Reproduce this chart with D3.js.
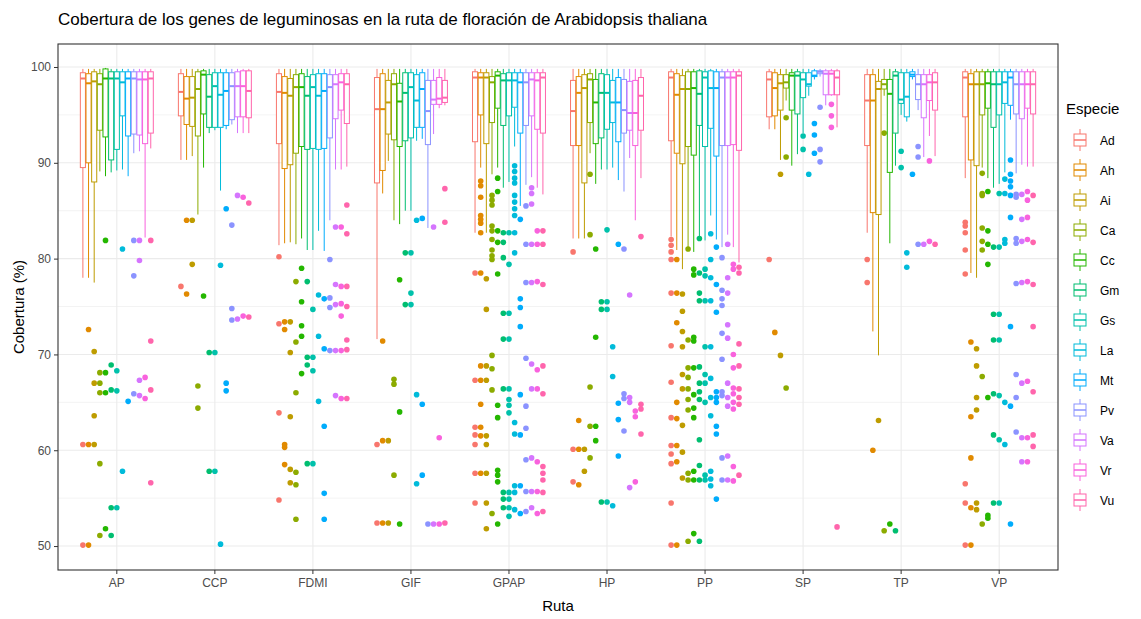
<!DOCTYPE html>
<html>
<head>
<meta charset="utf-8">
<script src="https://cdn.jsdelivr.net/npm/d3@7"></script>
<style>
  body { margin: 0; background: #fff; }
  text { font-family: "Liberation Sans", Arial, sans-serif; }
</style>
</head>
<body>
<div id="chart"></div>
<script>
var rutas = ["AP", "CCP", "FDMI", "GIF", "GPAP", "HP", "PP", "SP", "TP", "VP"];
var especies = ["Ad", "Ah", "Ai", "Ca", "Cc", "Gm", "Gs", "La", "Mt", "Pv", "Va", "Vr", "Vu"];
var colores = ["#F8766D", "#E18A00", "#BE9C00", "#8CAB00", "#24B700", "#00BE70", "#00C1AB",
               "#00BBDA", "#00ACFC", "#8B93FF", "#D575FE", "#F962DD", "#FF65AC"];
var yTicks = [50, 60, 70, 80, 90, 100];

// cajas: [bigote inferior, q1, mediana, q3, bigote superior] por especie (orden de "especies")
var cajasAP = [[78.0, 89.5, 98.8, 99.4, 99.8], [78.0, 90.0, 98.3, 99.3, 99.8], [77.5, 88.0, 98.5, 99.5, 99.8],
  [89.1, 93.4, 98.2, 99.3, 99.8], [88.6, 92.7, 98.8, 99.8, 99.9], [89.0, 90.3, 98.8, 99.5, 99.8],
  [89.2, 91.4, 98.8, 99.5, 99.8], [89.3, 94.9, 98.4, 99.5, 99.8], [88.6, 92.8, 98.8, 99.5, 99.8],
  [91.0, 93.0, 98.8, 99.5, 99.8], [91.2, 92.9, 98.7, 99.5, 99.8], [82.2, 92.0, 98.7, 99.5, 99.8],
  [91.5, 93.1, 98.8, 99.5, 99.8]];
var cajasCCP = [[90.3, 94.9, 97.4, 99.3, 99.8], [90.3, 94.0, 96.7, 99.0, 99.8], [90.7, 93.8, 96.8, 99.0, 99.8],
  [84.6, 92.8, 97.7, 99.5, 99.8], [89.5, 95.1, 99.2, 99.6, 99.8], [93.1, 93.7, 96.9, 99.2, 99.8],
  [93.4, 93.7, 98.0, 99.4, 99.8], [87.1, 93.7, 97.1, 99.4, 99.8], [93.5, 93.9, 97.5, 99.4, 99.8],
  [94.0, 94.5, 98.0, 99.4, 99.8], [93.1, 94.8, 98.0, 99.5, 99.8], [93.1, 94.8, 98.0, 99.6, 99.8],
  [93.1, 94.7, 97.5, 99.6, 99.8]];
var cajasFDMI = [[81.4, 92.0, 97.4, 99.3, 99.8], [81.6, 89.4, 97.3, 99.0, 99.8], [81.7, 89.8, 97.0, 98.8, 99.8],
  [81.5, 91.0, 97.9, 99.2, 99.8], [82.1, 91.7, 97.9, 99.3, 99.8], [80.9, 91.4, 97.0, 99.0, 99.8],
  [80.9, 91.5, 97.9, 99.2, 99.8], [82.9, 91.4, 97.0, 99.3, 99.8], [80.8, 91.5, 97.5, 99.3, 99.8],
  [84.0, 92.6, 97.9, 99.2, 99.8], [89.3, 94.6, 98.2, 99.2, 99.8], [89.3, 95.5, 98.4, 99.3, 99.8],
  [89.6, 94.1, 98.2, 99.3, 99.8]];
var cajasGIF = [[71.6, 87.9, 95.6, 98.9, 99.8], [86.8, 89.2, 95.6, 99.3, 99.8], [90.2, 93.0, 96.3, 98.6, 99.8],
  [84.0, 92.4, 98.2, 99.3, 99.8], [83.6, 91.7, 96.4, 98.3, 99.8], [85.0, 92.3, 97.3, 99.4, 99.8],
  [85.0, 92.6, 97.9, 99.4, 99.8], [92.3, 93.7, 96.5, 99.2, 99.8], [92.5, 93.7, 97.7, 99.4, 99.8],
  [83.2, 91.9, 95.4, 98.6, 99.8], [93.0, 96.1, 96.6, 98.6, 99.8], [95.7, 96.1, 96.7, 98.9, 99.8],
  [96.0, 96.3, 96.8, 98.6, 99.8]];
var cajasGPAP = [[82.7, 92.2, 98.9, 99.5, 99.8], [89.5, 95.0, 98.9, 99.4, 99.8], [82.7, 92.0, 98.9, 99.4, 99.8],
  [88.8, 94.2, 98.4, 99.0, 99.8], [89.5, 95.7, 99.1, 99.5, 99.8], [87.4, 93.9, 98.6, 99.3, 99.8],
  [88.0, 94.9, 98.6, 99.4, 99.8], [91.7, 95.8, 98.6, 99.4, 99.8], [85.5, 93.1, 98.4, 99.4, 99.8],
  [87.7, 93.9, 98.4, 99.4, 99.8], [88.5, 94.9, 98.7, 99.4, 99.8], [87.4, 93.5, 98.6, 99.4, 99.8],
  [86.7, 93.1, 98.9, 99.4, 99.8]];
var cajasHP = [[82.1, 91.8, 95.4, 98.6, 99.8], [82.1, 91.8, 97.3, 99.0, 99.8], [82.1, 87.9, 97.8, 99.2, 99.8],
  [91.0, 94.2, 98.7, 99.3, 99.8], [87.8, 92.0, 96.3, 98.7, 99.8], [89.3, 92.6, 97.3, 99.3, 99.8],
  [89.3, 93.5, 97.3, 99.2, 99.8], [89.5, 94.2, 96.3, 98.6, 99.8], [88.2, 92.2, 96.3, 98.9, 99.8],
  [87.0, 93.1, 95.5, 98.7, 99.8], [90.5, 93.4, 95.2, 98.5, 99.8], [84.0, 91.8, 95.2, 98.6, 99.8],
  [88.4, 93.4, 97.0, 98.9, 99.8]];
var cajasPP = [[82.3, 92.3, 98.9, 99.5, 99.8], [80.9, 91.0, 97.1, 99.3, 99.8], [78.9, 89.9, 97.7, 99.1, 99.8],
  [81.2, 91.7, 97.7, 99.5, 99.8], [80.7, 90.8, 97.8, 99.5, 99.8], [82.3, 93.9, 97.2, 99.6, 99.8],
  [81.9, 91.7, 98.9, 99.5, 99.8], [84.5, 93.6, 97.8, 99.6, 99.8], [82.0, 90.7, 97.8, 99.5, 99.8],
  [81.2, 91.8, 98.9, 99.5, 99.8], [82.5, 91.8, 98.9, 99.5, 99.8], [81.2, 91.9, 98.9, 99.5, 99.8],
  [79.6, 91.3, 99.1, 99.5, 99.8]];
var cajasSP = [[93.5, 94.8, 98.7, 99.5, 99.8], [93.5, 94.9, 97.8, 99.4, 99.8], [90.3, 95.5, 98.3, 99.2, 99.8],
  [96.5, 97.8, 98.4, 99.2, 99.8], [89.7, 95.5, 99.1, 99.4, 99.8], [90.9, 95.1, 99.1, 99.5, 99.8],
  [93.1, 96.8, 98.7, 99.4, 99.8], [97.0, 98.0, 98.2, 99.4, 99.8], [98.7, 99.0, 99.1, 99.6, 99.8],
  [99.0, 99.3, 99.5, 99.6, 99.8], [96.0, 97.1, 99.3, 99.6, 99.8], [97.0, 97.1, 99.3, 99.6, 99.8],
  [93.7, 97.1, 98.9, 99.6, 99.8]];
var cajasTP = [[82.7, 91.8, 96.5, 99.2, 99.8], [72.4, 84.8, 96.5, 99.2, 99.8], [69.9, 84.6, 97.7, 98.5, 99.8],
  [97.0, 97.7, 98.2, 98.7, 99.8], [81.6, 89.0, 97.2, 98.7, 99.8], [89.7, 93.1, 99.1, 99.5, 99.8],
  [95.0, 96.2, 96.6, 99.4, 99.8], [94.3, 94.8, 96.9, 99.4, 99.8], [98.7, 99.0, 99.2, 99.5, 99.8],
  [95.5, 96.6, 98.2, 99.2, 99.8], [90.6, 94.7, 98.2, 99.2, 99.8], [92.8, 96.5, 98.4, 99.2, 99.8],
  [90.7, 95.5, 98.4, 99.4, 99.8]];
var cajasVP = [[88.4, 94.8, 98.9, 99.5, 99.8], [78.5, 90.3, 98.2, 99.3, 99.8], [78.0, 89.7, 98.2, 99.5, 99.8],
  [89.5, 95.0, 98.2, 99.5, 99.8], [88.4, 95.7, 98.3, 99.5, 99.8], [87.4, 93.7, 98.2, 99.5, 99.8],
  [87.8, 95.0, 98.2, 99.5, 99.8], [89.0, 96.2, 98.4, 99.5, 99.8], [94.5, 96.0, 98.9, 99.5, 99.8],
  [88.9, 95.1, 98.2, 99.5, 99.8], [89.8, 94.6, 98.2, 99.5, 99.8], [89.6, 95.7, 98.2, 99.5, 99.8],
  [89.6, 95.1, 98.2, 99.5, 99.8]];

// valores atípicos por especie (orden de "especies")
var atipicosAP = [[60.6, 50.1], [72.6, 60.6, 50.1], [70.3, 67.0, 63.6, 60.6], [68.1, 67.0, 66.0, 58.6, 51.1],
  [81.9, 68.1, 66.0, 51.8], [68.9, 66.3, 54.0, 51.1], [68.3, 66.2, 54.0], [81.0, 57.8], [65.1],
  [81.9, 78.2, 65.9], [81.9, 79.8, 67.3, 65.7], [67.6, 65.4], [81.9, 71.4, 66.3, 56.6]];
var atipicosCCP = [[77.1], [84.0, 76.3], [84.0, 79.4], [66.7, 64.4], [76.1], [70.2, 57.8], [70.2, 57.8],
  [79.3, 50.2], [85.2, 67.0, 66.2], [83.5, 74.8, 73.6], [86.6, 73.7], [86.4, 74.0], [85.8, 73.9]];
var atipicosFDMI = [[80.2, 73.2, 63.9, 54.8], [73.4, 72.6, 60.6, 60.3, 58.5], [73.4, 70.2, 63.5, 58.0, 56.6],
  [77.6, 71.3, 66.0, 57.7, 56.4, 52.8], [79.0, 75.5, 73.0, 71.9, 68.0], [77.6, 69.7, 68.9, 58.6],
  [74.7, 69.7, 68.3, 58.6], [76.2, 71.9, 65.1], [75.8, 70.6, 62.5, 55.5, 52.8], [79.9, 75.9, 74.9, 70.4],
  [83.3, 77.3, 75.2, 70.4, 65.7], [83.3, 77.1, 75.3, 74.0, 70.4, 65.4], [85.6, 82.6, 77.1, 75.0, 71.5, 70.5, 65.4]];
var atipicosGIF = [[60.6, 52.4], [71.4, 61.0, 52.4], [61.0, 52.4], [67.4, 66.9, 57.4], [77.8, 64.0, 52.3],
  [80.6, 75.2], [80.6, 76.4, 75.2], [84.0, 65.8, 56.5], [84.2, 64.8, 57.4], [52.3], [83.3, 52.3],
  [61.3, 52.3], [87.3, 83.8, 52.4]];
var atipicosGPAP = [[78.5, 67.3, 62.4, 61.6, 60.6, 57.6, 54.5],
  [88.1, 87.6, 86.4, 84.5, 84.1, 83.7, 82.7, 78.5, 68.8, 67.3, 64.8, 62.4, 61.5, 57.6],
  [77.9, 74.7, 68.8, 67.3, 61.5, 60.6, 57.6, 54.5, 51.8],
  [86.6, 86.1, 85.6, 83.4, 82.9, 82.0, 80.9, 80.3, 79.9, 69.9, 68.5, 66.3, 53.4],
  [88.4, 87.0, 82.9, 81.7, 78.4, 64.7, 63.4, 57.9, 57.4, 56.7, 52.3],
  [82.7, 81.7, 80.1, 74.3, 71.6, 66.4, 55.6, 54.9, 54.0],
  [82.7, 79.4, 74.3, 71.6, 66.4, 65.3, 64.7, 63.9, 55.6, 54.9, 54.0, 53.1],
  [89.7, 89.1, 88.4, 87.9, 86.6, 85.9, 85.2, 84.5, 82.7, 80.6, 62.9, 61.7, 56.3, 55.6, 53.8],
  [84.1, 75.8, 74.9, 72.9, 65.8, 61.6, 56.3, 53.4],
  [85.5, 81.5, 77.5, 69.6, 64.6, 62.3, 59.0, 55.7, 53.6],
  [87.4, 86.8, 85.7, 81.5, 77.5, 69.0, 66.4, 59.2, 55.7, 54.0],
  [82.9, 81.5, 77.6, 68.4, 66.4, 58.8, 55.7, 53.4],
  [82.9, 81.5, 77.3, 68.8, 65.9, 58.3, 57.6, 56.9, 55.6, 53.6]];
var atipicosHP = [[80.7, 60.1, 56.7], [63.1, 60.1, 56.4], [60.1, 57.8], [88.8, 82.5, 66.6, 62.5, 59.2],
  [81.0, 71.8, 62.5, 61.0], [75.5, 74.7, 54.6], [83.0, 75.5, 74.7, 54.6], [70.8, 67.7, 54.2],
  [81.5, 64.9, 63.2, 59.4], [81.0, 65.9, 65.4, 62.0], [76.2, 65.5, 65.0, 56.1], [64.1, 63.5, 56.7],
  [82.3, 64.8, 64.3, 61.7]];
var atipicosPP = [[82.0, 81.4, 80.7, 79.9, 76.4, 70.9, 67.1, 63.4, 60.5, 59.6, 58.6, 54.5, 50.1],
  [79.9, 76.4, 73.3, 65.0, 63.3, 60.5, 58.8, 50.1],
  [76.3, 74.5, 72.4, 70.8, 67.9, 66.4, 62.6, 59.8, 57.1],
  [81.0, 71.5, 68.6, 67.6, 66.4, 65.3, 64.2, 57.6, 56.9, 50.5],
  [78.9, 78.3, 71.8, 71.4, 68.6, 65.8, 64.4, 63.4, 57.8, 56.9, 51.3],
  [82.1, 78.5, 76.4, 75.6, 68.7, 67.0, 66.1, 65.3, 61.1, 58.4, 56.9, 50.5],
  [78.9, 78.2, 75.6, 70.8, 67.9, 67.0, 65.0, 57.4, 56.9],
  [82.6, 79.9, 78.0, 75.6, 70.8, 67.5, 65.5, 63.6, 57.8, 57.0, 56.3],
  [81.2, 77.3, 74.4, 66.1, 65.5, 65.0, 62.5, 61.7, 54.9],
  [80.1, 76.7, 75.8, 75.1, 72.2, 69.5, 66.1, 65.7, 59.2, 56.9],
  [81.5, 78.0, 76.4, 73.1, 71.7, 67.0, 65.5, 64.6, 59.4, 56.9],
  [79.4, 78.9, 70.0, 68.6, 66.5, 65.9, 65.0, 64.3, 58.3, 56.8],
  [79.1, 78.5, 71.1, 68.8, 66.4, 65.5, 64.8, 57.4]];
var atipicosSP = [[79.9], [72.3], [88.8, 69.9], [94.7, 90.6, 66.5], [], [], [92.8, 91.4], [88.8],
  [94.1, 92.9, 91.0], [95.8, 91.4, 90.1], [], [96.1, 94.9, 93.7], [52.0]];
var atipicosTP = [[79.9, 77.5], [60.0], [63.1], [93.1, 51.6], [52.3], [51.6], [91.2, 89.5], [80.6, 79.1],
  [88.8], [91.7, 90.6, 81.5], [81.5], [90.2, 81.8], [81.5]];
var atipicosVP = [[83.8, 83.4, 82.7, 80.9, 78.4, 56.5, 54.5, 50.1], [71.3, 63.5, 59.2, 54.0, 50.1],
  [70.6, 68.8, 65.5, 64.2, 54.5, 53.8], [88.9, 86.8, 86.6, 83.2, 81.8, 80.9, 67.7, 52.3],
  [87.0, 82.9, 81.5, 79.4, 65.5, 53.2, 52.9], [81.2, 74.2, 71.5, 65.9, 61.6, 54.5],
  [86.8, 81.2, 74.2, 71.5, 65.7, 61.1, 54.5], [88.3, 86.8, 82.0, 81.6, 65.0, 60.6],
  [90.3, 88.8, 88.1, 87.5, 86.6, 84.3, 72.9, 64.6, 52.3], [86.7, 86.4, 82.1, 81.6, 77.4, 67.9, 65.5, 61.9],
  [86.7, 84.1, 81.8, 77.5, 67.0, 61.3, 58.8], [87.0, 86.1, 84.3, 82.0, 77.6, 67.2, 61.3, 58.8],
  [86.6, 81.7, 77.3, 72.9, 66.1, 61.6, 60.4]];

var cajas = {AP: cajasAP, CCP: cajasCCP, FDMI: cajasFDMI, GIF: cajasGIF, GPAP: cajasGPAP,
             HP: cajasHP, PP: cajasPP, SP: cajasSP, TP: cajasTP, VP: cajasVP};
var atipicos = {AP: atipicosAP, CCP: atipicosCCP, FDMI: atipicosFDMI, GIF: atipicosGIF, GPAP: atipicosGPAP,
                HP: atipicosHP, PP: atipicosPP, SP: atipicosSP, TP: atipicosTP, VP: atipicosVP};

// -- canvas --
var W = 1141, H = 619;
var margin = {top: 44, right: 83, bottom: 49, left: 58};
var width = W - margin.left - margin.right,
    height = H - margin.top - margin.bottom;

var svg = d3.select("#chart").append("svg")
    .attr("width", W).attr("height", H);
svg.append("rect").attr("width", W).attr("height", H).attr("fill", "#fff");

var g = svg.append("g").attr("transform", "translate(" + margin.left + "," + margin.top + ")");

var x = d3.scaleBand().domain(rutas).range([0, width]).paddingInner(0).paddingOuter(0.1);
var xs = d3.scaleBand().domain(especies).range([-0.375 * x.step(), 0.375 * x.step()]);
var y = d3.scaleLinear().domain([47.5, 102.4]).range([height, 0]);
var color = d3.scaleOrdinal().domain(especies).range(colores);

// -- grid --
var minor = d3.range(55, 100, 10);
g.selectAll(".minor").data(minor).enter().append("line")
    .attr("x1", 0).attr("x2", width)
    .attr("y1", function(d) { return y(d); }).attr("y2", function(d) { return y(d); })
    .attr("stroke", "#ebebeb").attr("stroke-width", 0.6);
g.selectAll(".major").data(yTicks).enter().append("line")
    .attr("x1", 0).attr("x2", width)
    .attr("y1", function(d) { return y(d); }).attr("y2", function(d) { return y(d); })
    .attr("stroke", "#ebebeb").attr("stroke-width", 1.1);
g.selectAll(".vmajor").data(rutas).enter().append("line")
    .attr("x1", function(d) { return x(d) + x.bandwidth() / 2; })
    .attr("x2", function(d) { return x(d) + x.bandwidth() / 2; })
    .attr("y1", 0).attr("y2", height)
    .attr("stroke", "#ebebeb").attr("stroke-width", 1.1);

// -- boxplots --
var bw = xs.bandwidth() * 0.9;
rutas.forEach(function(r) {
    var cx0 = x(r) + x.bandwidth() / 2;
    var grp = g.append("g");
    especies.forEach(function(e, i) {
        var s = cajas[r][i];
        var cx = cx0 + xs(e) + xs.bandwidth() / 2;
        var c = color(e);
        grp.append("line").attr("x1", cx).attr("x2", cx)
            .attr("y1", y(s[0])).attr("y2", y(s[1]))
            .attr("stroke", c).attr("stroke-width", 1);
        grp.append("line").attr("x1", cx).attr("x2", cx)
            .attr("y1", y(s[3])).attr("y2", y(s[4]))
            .attr("stroke", c).attr("stroke-width", 1);
        grp.append("rect")
            .attr("x", cx - bw / 2).attr("width", bw)
            .attr("y", y(s[3])).attr("height", y(s[1]) - y(s[3]))
            .attr("fill", "#fff").attr("stroke", c).attr("stroke-width", 1);
        grp.append("line").attr("x1", cx - bw / 2).attr("x2", cx + bw / 2)
            .attr("y1", y(s[2])).attr("y2", y(s[2]))
            .attr("stroke", c).attr("stroke-width", 2);
        grp.selectAll(null).data(atipicos[r][i]).enter().append("circle")
            .attr("cx", cx).attr("cy", function(d) { return y(d); })
            .attr("r", 2.8).attr("fill", c);
    });
});

// -- panel border + axes --
g.append("rect").attr("width", width).attr("height", height)
    .attr("fill", "none").attr("stroke", "#333").attr("stroke-width", 1.1);

var yAxis = g.append("g").call(d3.axisLeft(y).tickValues(yTicks).tickSize(4).tickPadding(3));
var xAxis = g.append("g").attr("transform", "translate(0," + height + ")")
    .call(d3.axisBottom(x).tickSize(4).tickPadding(4));
[yAxis, xAxis].forEach(function(a) {
    a.select(".domain").remove();
    a.selectAll(".tick line").attr("stroke", "#333");
    a.selectAll(".tick text").attr("fill", "#4d4d4d")
        .style("font-size", "12px").style("font-family", "'Liberation Sans', Arial, sans-serif");
});

// -- titles --
svg.append("text").attr("x", margin.left).attr("y", 25)
    .style("font-size", "17px").attr("fill", "#000")
    .text("Cobertura de los genes de leguminosas en la ruta de floración de Arabidopsis thaliana");
svg.append("text").attr("x", margin.left + width / 2).attr("y", 611)
    .attr("text-anchor", "middle").style("font-size", "15px")
    .text("Ruta");
svg.append("text")
    .attr("transform", "translate(24," + (margin.top + height / 2) + ") rotate(-90)")
    .attr("text-anchor", "middle").style("font-size", "15px")
    .text("Cobertura (%)");

// -- legend --
var leg = svg.append("g").attr("transform", "translate(1066,0)");
leg.append("text").attr("x", 0).attr("y", 114).style("font-size", "15px").text("Especie");
var keyH = 30;
var items = leg.selectAll(".key").data(especies).enter().append("g")
    .attr("transform", function(d, i) { return "translate(0," + (126 + i * keyH) + ")"; });
items.append("line").attr("x1", 14).attr("x2", 14).attr("y1", 3).attr("y2", 25)
    .attr("stroke", function(d) { return color(d); });
items.append("rect").attr("x", 8).attr("width", 12).attr("y", 8).attr("height", 12)
    .attr("fill", "#fff").attr("stroke", function(d) { return color(d); });
items.append("line").attr("x1", 8).attr("x2", 20).attr("y1", 14).attr("y2", 14)
    .attr("stroke", function(d) { return color(d); }).attr("stroke-width", 1.5);
items.append("text").attr("x", 34).attr("y", 18.5).style("font-size", "12px")
    .text(function(d) { return d; });
</script>
</body>
</html>
